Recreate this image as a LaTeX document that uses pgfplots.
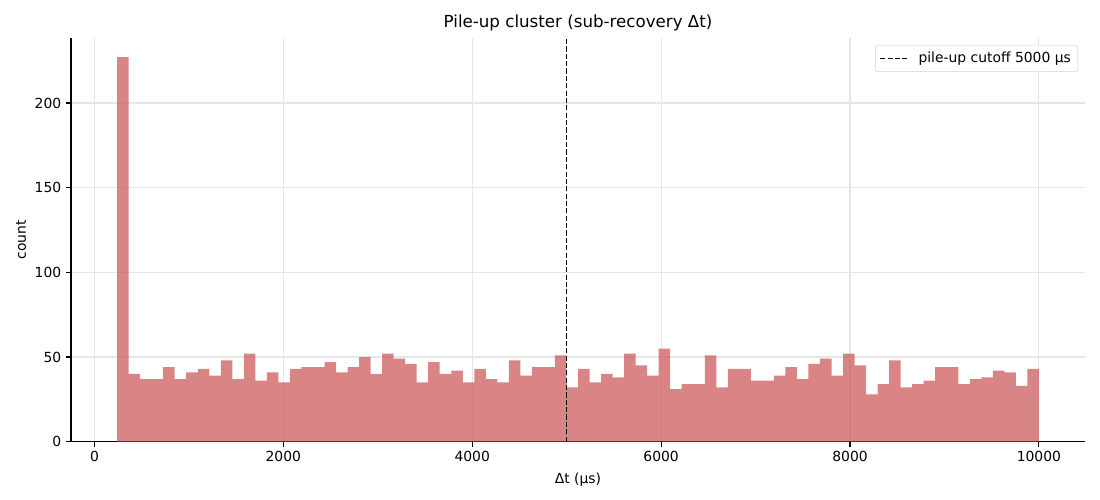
\documentclass[border=0pt]{standalone}
\usepackage{pgfplots}
\pgfplotsset{compat=1.18}
\usepackage{fontspec}
\setmainfont{DejaVu Sans}
\definecolor{barc}{RGB}{205,92,92}
\definecolor{gridc}{RGB}{230,230,230}
\definecolor{legc}{RGB}{210,210,210}
\pgfplotstableread{
x y
240 227
362 40
484 37
606 37
728 44
850 37
972 41
1094 43
1216 39
1338 48
1460 37
1582 52
1704 36
1826 41
1948 35
2070 43
2192 44
2314 44
2436 47
2558 41
2680 44
2802 50
2924 40
3046 52
3168 49
3290 46
3412 35
3534 47
3656 40
3778 42
3900 35
4022 43
4144 37
4266 35
4388 48
4510 39
4632 44
4754 44
4876 51
4998 32
5120 43
5242 35
5364 40
5486 38
5608 52
5730 45
5852 39
5974 55
6096 31
6218 34
6340 34
6462 51
6584 32
6706 43
6828 43
6950 36
7072 36
7194 39
7316 44
7438 37
7560 46
7682 49
7804 39
7926 52
8048 45
8170 28
8292 34
8414 48
8536 32
8658 34
8780 36
8902 44
9024 44
9146 34
9268 37
9390 38
9512 42
9634 41
9756 33
9878 43
10000 43
}\histdata
\begin{document}
\begin{tikzpicture}
\useasboundingbox (0,0) rectangle (792bp,360bp);
\begin{axis}[
  at={(51.12bp,41.98bp)}, anchor=south west,
  scale only axis, width=730.08bp, height=290.66bp,
  xmin=-248, xmax=10488, ymin=0, ymax=238.35,
  axis lines=left, axis line style={-, line width=0.8bp, black},
  xtick={0,2000,4000,6000,8000,10000},
  ytick={0,50,100,150,200},
  scaled x ticks=false, scaled y ticks=false,
  grid=major, major grid style={gridc, line width=0.8bp},
  tick align=outside, major tick length=3.5bp,
  every tick/.style={black, line width=0.8bp},
  tick label style={font=\fontsize{10bp}{12bp}\selectfont},
  /pgf/number format/assume math mode=true,
  /pgf/number format/1000 sep={},
  title={Pile-up cluster (sub-recovery Δt)},
  every axis title/.style={at={(axis description cs:0.5,1)}, anchor=center, yshift=10.8bp, font=\fontsize{12bp}{14bp}\selectfont},
  xlabel={Δt (μs)},
  ylabel={count},
  every axis x label/.style={at={(axis description cs:0.5,0)}, anchor=center, yshift=-27bp, font=\fontsize{10bp}{12bp}\selectfont},
  every axis y label/.style={at={(axis description cs:0,0.5)}, xshift=-36bp, rotate=90, anchor=center, font=\fontsize{10bp}{12bp}\selectfont},
  legend style={at={(1,1)}, anchor=north east, xshift=-5bp, yshift=-5bp,
    draw=legc, rounded corners=2bp, fill=white, fill opacity=0.8, text opacity=1,
    font=\fontsize{10bp}{12bp}\selectfont, inner xsep=3bp, inner ysep=3bp},
  legend cell align=left,
  legend image code/.code={\draw[#1] (0bp,0bp) -- (19.5bp,0bp); \path (25bp,0bp);},
]
\addplot[ybar interval, fill=barc, fill opacity=0.75, draw=none, forget plot] table[x=x,y=y] {\histdata};
\addplot[black, line width=1.1bp, dash pattern=on 3.7bp off 1.6bp] coordinates {(5000,0) (5000,238.35)};
\addlegendentry{pile-up cutoff 5000 μs}
\end{axis}
\end{tikzpicture}
\end{document}
